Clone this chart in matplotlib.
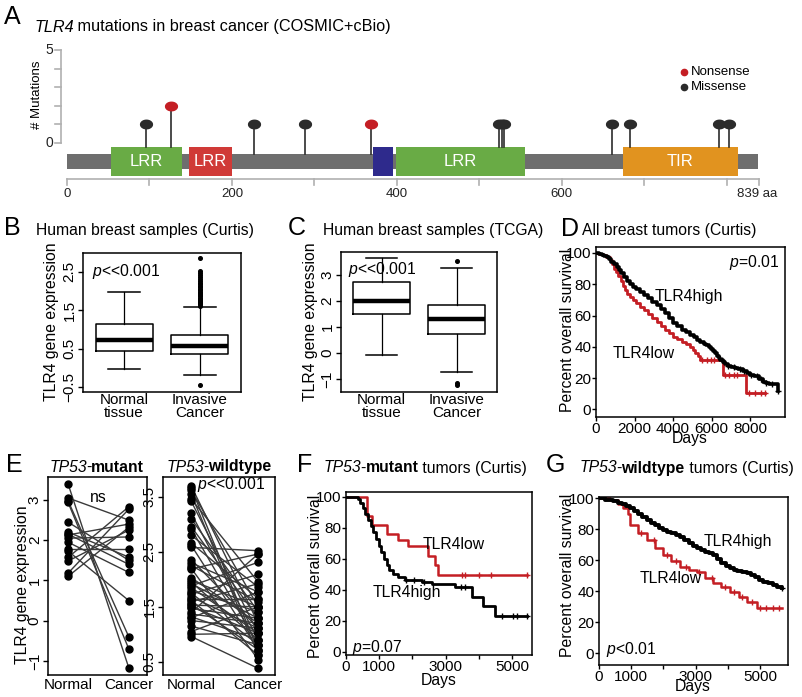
import matplotlib
matplotlib.use('Agg')
import matplotlib.pyplot as plt
import numpy as np
from matplotlib.path import Path
from matplotlib.patches import Rectangle

plt.rcParams['font.family'] = ['Liberation Sans', 'DejaVu Sans']
plt.rcParams['mathtext.fontset'] = 'custom'
plt.rcParams['mathtext.rm'] = 'Liberation Sans'
plt.rcParams['mathtext.it'] = 'Liberation Sans:italic'
plt.rcParams['mathtext.bf'] = 'Liberation Sans:bold'

# ------------------------------------------------------------------
# Data
# ------------------------------------------------------------------

# A: TLR4 protein and mutations
protein_len = 839
domain_names = ['LRR', 'LRR', '', 'LRR', 'TIR']
domain_start = [53, 148, 371, 399, 674]
domain_end = [140, 200, 395, 555, 813]
domain_colors = ['#69ab45', '#d03a37', '#2e2a8c', '#69ab45', '#e1931f']
mut_pos = [96, 126, 227, 289, 368, 524, 527, 530, 661, 682, 790, 803]
mut_count = [1, 2, 1, 1, 1, 1, 1, 1, 1, 1, 1, 1]
mut_type = ['Missense', 'Nonsense', 'Missense', 'Missense', 'Nonsense',
            'Missense', 'Missense', 'Missense', 'Missense', 'Missense',
            'Missense', 'Missense']

# B: Curtis boxplot
box_labels = ['Normal\ntissue', 'Invasive\nCancer']
b_med = [0.73, 0.58]
b_q1 = [0.45, 0.35]
b_q3 = [1.15, 0.85]
b_low = [-0.03, -0.20]
b_high = [1.97, 1.58]
b_cancer_out = [1.62, 1.65, 1.68, 1.71, 1.74, 1.77, 1.80, 1.83, 1.86, 1.89,
                1.92, 1.95, 1.98, 2.02, 2.06, 2.10, 2.14, 2.18, 2.22, 2.27,
                2.32, 2.37, 2.42, 2.47, 2.52, 2.87, -0.44]

# C: TCGA boxplot
c_med = [2.00, 1.30]
c_q1 = [1.49, 0.72]
c_q3 = [2.73, 1.84]
c_low = [-0.07, -0.75]
c_high = [3.66, 3.25]
c_cancer_out = [3.55, -1.15, -1.25]

# D: all tumors KM
d_high_t = [0, 150, 300, 420, 550, 680, 800, 940, 1075, 1190, 1300, 1450, 1600,
            1750, 1900, 2100, 2300, 2500, 2700, 2920, 3150, 3380, 3600, 3800,
            4000, 4220, 4450, 4680, 4900, 5080, 5250, 5420, 5600, 5720, 5850,
            5980, 6100, 6200, 6300, 6380, 6450, 6580, 6700, 6850, 7000, 7200,
            7400, 7620, 7850, 8020, 8200, 8450, 8700, 8850, 9000, 9470]
d_high_s = [100, 99.6, 99, 98.3, 97.5, 96, 94.5, 92.8, 91, 89, 87, 84.5, 82,
            80.2, 78.5, 76.8, 75, 73, 71, 68.8, 66.5, 64, 61.5, 58.2,
            55, 53, 51, 49.2, 47.5, 46, 44.5, 43.2, 42, 41, 40,
            38.8, 37.5, 35.8, 34, 32.8, 31.5, 30.2, 29, 28, 27, 26.2,
            25.5, 24.2, 23, 22, 21, 19.2, 17.5, 16.8, 16, 12]
d_low_t = [0, 180, 350, 540, 730, 840, 950, 1050, 1160, 1280, 1400, 1500, 1600,
           1750, 1900, 2100, 2290, 2500, 2700, 2920, 3150, 3380, 3600, 3800,
           4020, 4230, 4450, 4660, 4880, 5020, 5150, 5280, 5400, 5700, 6000,
           6440, 6600, 7000, 7450, 7790, 8000, 8780]
d_low_s = [100, 99.5, 99, 97.5, 95.5, 92.8, 90, 87.5, 85, 82, 79, 76.5, 74,
           72, 70, 67.8, 65.5, 63.2, 61, 58.5, 56, 53.5, 51, 48.8,
           46.5, 44.8, 43, 41.5, 40, 38, 36, 33.8, 31.5, 31.5, 31.5,
           31.5, 22, 22, 22, 10.5, 10.5, 10.5]
d_high_cens = [6550, 6850, 7150, 7500, 7700, 8050, 8350, 8550, 8850, 9150, 9470]
d_low_cens = [5500, 5750, 5950, 6150, 6700, 6900, 7150, 7350, 7950, 8250, 8550, 8780]

# E: paired TP53 samples
e_mut_normal = [3.40, 3.05, 2.98, 2.94, 2.45, 2.20, 2.13, 2.05, 1.95, 1.78,
                1.73, 1.57, 1.48, 1.18, 1.10, 2.15]
e_mut_cancer = [-1.17, 2.50, -0.40, -0.70, 1.50, 1.58, 2.40, 2.08, 1.20, 1.78,
                0.50, 2.83, 2.25, 2.77, 2.32, 1.40]
e_wt_normal = [3.70, 3.66, 3.62, 3.55, 3.46, 3.42, 3.20, 3.10, 2.96, 2.92,
               2.80, 2.66, 2.62, 2.58, 2.36, 2.30, 2.25, 2.20, 2.19, 2.03,
               1.98, 1.95, 1.92, 1.88, 1.85, 1.79, 1.75, 1.73, 1.68, 1.65,
               1.62, 1.59, 1.55, 1.53, 1.50, 1.47, 1.40, 1.37, 1.32, 1.30,
               1.25, 1.15, 1.05, 1.00, 0.96]
e_wt_cancer = [1.20, 0.70, 1.50, 0.62, 1.95, 1.02, 0.90, 1.41, 1.29, 0.81,
               1.86, 1.65, 0.72, 2.52, 1.11, 1.77, 1.59, 0.54, 2.46, 1.20,
               1.50, 0.90, 1.29, 2.31, 1.02, 1.41, 0.81, 2.09, 1.11, 1.65,
               0.62, 1.92, 0.72, 1.50, 1.02, 1.29, 2.46, 1.20, 0.90, 1.77,
               1.11, 0.81, 1.50, 1.02, 0.38]

# F: TP53-mutant KM
f_high_t = [0, 350, 420, 500, 580, 660, 740, 820, 900, 980, 1060, 1140, 1220,
            1300, 1420, 1576, 1780, 2280, 2580, 3283, 3785, 4136, 4488, 5442]
f_high_s = [100, 98.5, 96, 92.5, 89, 85, 81, 77, 73, 68.5, 64.5, 60, 56,
            52.5, 50, 48, 46, 45, 43.5, 41.5, 35.5, 29.5, 23, 23]
f_low_t = [0, 623, 774, 1225, 1576, 1877, 2480, 2681, 2781, 5442]
f_low_s = [100, 87.5, 82, 76, 72, 68, 62, 56, 49.4, 49.4]
f_high_cens = [1800, 2050, 2350, 3450, 3580, 4690, 5020, 5160, 5442]
f_low_cens = [3480, 3580, 4000, 4380, 5440]

# G: TP53-wildtype KM
g_high_t = [0, 200, 447, 580, 700, 830, 962, 1080, 1200, 1340, 1480, 1610,
            1750, 1870, 1998, 2120, 2250, 2380, 2516, 2650, 2800, 2920, 3033,
            3170, 3300, 3420, 3551, 3680, 3800, 3930, 4069, 4180, 4300, 4440,
            4586, 4720, 4850, 4980, 5104, 5250, 5400, 5540, 5673]
g_high_s = [100, 99, 97.9, 97, 96, 94.8, 93.6, 91.8, 90, 88, 86, 84.2,
            82.5, 81, 79.6, 78.5, 77.5, 76.5, 75.3, 73.2, 71, 69.3, 67.7,
            66.6, 65.5, 64.5, 63.4, 61, 58.5, 56.6, 54.8, 53.9, 53, 52.3,
            51.6, 50.3, 49, 47.6, 46.2, 45.1, 44, 43, 42]
g_low_t = [0, 342, 600, 756, 900, 962, 1200, 1480, 1750, 1998, 2250, 2516,
           2800, 3033, 3300, 3551, 3800, 4069, 4350, 4586, 4897, 5673]
g_low_s = [100, 99, 96.5, 93.6, 90, 82.8, 77.5, 73.1, 68, 63.4, 59.5, 55.9,
           54, 52.7, 48.5, 45.2, 42.5, 39.8, 36.5, 33.3, 29, 29]
g_low_cens = [1300, 1700, 2100, 2400, 2700, 3100, 3500, 3900, 4200, 4450,
              4750, 5000, 5200, 5400, 5600]

RED = '#c41e24'
W, H = 802, 697
fig = plt.figure(figsize=(W / 100, H / 100), dpi=100)
renderer = fig.canvas.get_renderer()


def px_axes(x0, y0, x1, y1):
    return fig.add_axes([x0 / W, 1 - y1 / H, (x1 - x0) / W, (y1 - y0) / H])


def fig_text(x, y, s, **kw):
    kw.setdefault('fontsize', 11)
    return fig.text(x / W, 1 - y / H, s, **kw)


def rich_text(x, y, parts, fontsize=11, ha='left'):
    # parts: (text, style, weight) drawn one after another
    texts = []
    cur = x
    for s, style, weight in parts:
        t = fig_text(cur, y, s, fontsize=fontsize, va='center',
                     style=style, weight=weight)
        cur += t.get_window_extent(renderer).width
        if style == 'italic':
            cur -= 1.5
        texts.append(t)
    if ha == 'center':
        shift = (cur - x) / 2 / W
        for t in texts:
            px, py = t.get_position()
            t.set_position((px - shift, py))


def style_axes(ax, rot_y=False):
    for sp in ax.spines.values():
        sp.set_linewidth(1.1)
    ax.tick_params(length=3.5, width=1, labelsize=11, pad=1)
    if rot_y:
        ax.tick_params(axis='y', labelrotation=90)


def center_ylabels(ax):
    for lab in ax.get_yticklabels():
        lab.set_va('center')


def surv_at(times, surv, t):
    idx = np.searchsorted(times, t, side='right') - 1
    return np.asarray(surv)[idx]


# ------------------------------------------------------------------
# Panel A
# ------------------------------------------------------------------
axA = px_axes(25, 40, 800, 205)
axA.set_xlim(-50.9, 888.7)
axA.set_ylim(-3.33, 5.54)
axA.axis('off')

axA.add_patch(Rectangle((0, -1.37), protein_len - 1, 0.78, color='#6e6e6e', lw=0, zorder=1))
for name, s, e, c in zip(domain_names, domain_start, domain_end, domain_colors):
    axA.add_patch(Rectangle((s, -1.77), e - s, 1.57, color=c, lw=0, zorder=2))
    if name:
        axA.text((s + e) / 2, -0.99, name, color='white', fontsize=12,
                 ha='center', va='center', zorder=3)

theta = np.linspace(0, 2 * np.pi, 41)
ellipse = Path(np.column_stack([np.cos(theta), 0.72 * np.sin(theta)]), closed=True)
for pos, cnt, kind in zip(mut_pos, mut_count, mut_type):
    in_dom = any(s <= pos <= e for s, e in zip(domain_start, domain_end))
    bottom = -0.2 if in_dom else -0.59
    axA.plot([pos, pos], [bottom, cnt], color='#1a1a1a', lw=1.1, zorder=3)
    col = RED if kind == 'Nonsense' else '#2b2b2b'
    axA.plot(pos, cnt, marker=ellipse, ms=8.5, color=col, zorder=4)

# mutation count axis
axA.plot([-7.6, -7.6], [0, 5], color='#b0b0b0', lw=1.2)
for k in range(6):
    axA.plot([-14.5, -7.6], [k, k], color='#b0b0b0', lw=1.2)
for k in [0, 5]:
    axA.text(-21.5, k, str(k), fontsize=10, ha='center', va='center', color='#222222')
axA.text(-36, 2.6, '# Mutations', rotation=90, fontsize=9.5, ha='center', va='center')

# amino-acid axis
axA.plot([0, protein_len], [-1.95, -1.95], color='#b0b0b0', lw=1.2)
for t in list(range(0, 900, 100)) + [protein_len]:
    axA.plot([t, t], [-1.95, -2.26], color='#b0b0b0', lw=1.2)
for t in [0, 200, 400, 600]:
    axA.text(t, -2.72, str(t), fontsize=9.5, ha='center', va='center', color='#222222')
axA.text(812, -2.72, '839 aa', fontsize=9.5, ha='left', va='center', color='#222222')

# legend
axA.plot(748, 3.82, 'o', ms=4.5, color=RED)
axA.plot(748, 3.01, 'o', ms=4.5, color='#2b2b2b')
axA.text(757, 3.82, 'Nonsense', fontsize=9.5, va='center')
axA.text(757, 3.01, 'Missense', fontsize=9.5, va='center')

fig_text(12, 17, 'A', fontsize=18, ha='center', va='center')
rich_text(35, 27, [('TLR4', 'italic', 'normal'),
                   (' mutations in breast cancer (COSMIC+cBio)', 'normal', 'normal')],
          fontsize=11.7)


# ------------------------------------------------------------------
# Panels B, C: boxplots
# ------------------------------------------------------------------
def draw_box(ax, med, q1, q3, lo, hi, cancer_out):
    stats = []
    for i in range(2):
        stats.append(dict(med=med[i], q1=q1[i], q3=q3[i], whislo=lo[i], whishi=hi[i],
                          fliers=cancer_out if i == 1 else []))
    ax.bxp(stats, positions=[1, 2], widths=0.75, capwidths=0.42,
           boxprops=dict(lw=1.1, color='black'),
           medianprops=dict(lw=3.2, color='black', solid_capstyle='butt'),
           whiskerprops=dict(lw=0.9, color='black'),
           capprops=dict(lw=1.1, color='black'),
           flierprops=dict(marker='o', ms=2.6, mfc='black', mec='black'))
    ax.set_xlim(0.46, 2.54)
    ax.set_xticks([1, 2])
    ax.set_xticklabels(box_labels, fontsize=11.3, linespacing=0.85)


axB = px_axes(83, 253, 241, 392)
draw_box(axB, b_med, b_q1, b_q3, b_low, b_high, b_cancer_out)
axB.set_ylim(-0.63, 2.99)
axB.set_yticks([-0.5, 0.5, 1.5, 2.5])
style_axes(axB, rot_y=True)
center_ylabels(axB)
axB.tick_params(axis='x', length=0, pad=1)
axB.text(0.58, 2.5, r'$\mathit{p}$<<0.001', fontsize=11.3, va='center')
fig_text(12, 228, 'B', fontsize=18, ha='center', va='center')
fig_text(36, 231, 'Human breast samples (Curtis)', fontsize=11.3, va='center')
fig_text(52, 322, 'TLR4 gene expression', fontsize=11.3, rotation=90, ha='center', va='center')

axC = px_axes(341, 252, 497, 392)
draw_box(axC, c_med, c_q1, c_q3, c_low, c_high, c_cancer_out)
axC.set_ylim(-1.5, 3.88)
axC.set_yticks([-1, 0, 1, 2, 3])
style_axes(axC, rot_y=True)
center_ylabels(axC)
axC.tick_params(axis='x', length=0, pad=1)
axC.text(0.56, 3.2, r'$\mathit{p}$<<0.001', fontsize=11.3, va='center')
fig_text(297, 228, 'C', fontsize=18, ha='center', va='center')
fig_text(323, 231, 'Human breast samples (TCGA)', fontsize=11.3, va='center')
fig_text(311, 322, 'TLR4 gene expression', fontsize=11.3, rotation=90, ha='center', va='center')


# ------------------------------------------------------------------
# KM helper
# ------------------------------------------------------------------
def draw_km(ax, t_hi, s_hi, t_lo, s_lo, lw_hi, lw_lo, cens_hi, cens_lo):
    ax.step(t_hi, s_hi, where='post', color='black', lw=lw_hi, zorder=3)
    ax.step(t_lo, s_lo, where='post', color=RED, lw=lw_lo, zorder=2)
    ax.plot(cens_hi, surv_at(t_hi, s_hi, cens_hi), '+', color='black', ms=4, mew=1, zorder=3)
    ax.plot(cens_lo, surv_at(t_lo, s_lo, cens_lo), '+', color=RED, ms=4, mew=1, zorder=2)
    ax.set_yticks([0, 20, 40, 60, 80, 100])
    style_axes(ax)
    ax.tick_params(length=3, pad=0.5)


# D
axD = px_axes(596, 247, 785, 417)
draw_km(axD, d_high_t, d_high_s, d_low_t, d_low_s, 2.6, 2.0, d_high_cens, d_low_cens)
axD.set_xlim(0, 9818)
axD.set_ylim(-4.9, 103.8)
axD.set_xticks([0, 2000, 4000, 6000, 8000])
axD.text(3050, 72, 'TLR4high', fontsize=11.3, va='center')
axD.text(850, 36, 'TLR4low', fontsize=11.3, va='center')
axD.text(9500, 94, r'$\mathit{p}$=0.01', fontsize=11.3, ha='right', va='center')
fig_text(570, 229, 'D', fontsize=18, ha='center', va='center')
fig_text(582, 231, 'All breast tumors (Curtis)', fontsize=11.3, va='center')
fig_text(567, 330, 'Percent overall survival', fontsize=11.3, rotation=90, ha='center', va='center')
fig_text(690, 439, 'Days', fontsize=11.3, ha='center', va='center')

# F
axF = px_axes(346, 492, 532, 655)
draw_km(axF, f_high_t, f_high_s, f_low_t, f_low_s, 2.0, 1.8, f_high_cens, f_low_cens)
axF.set_xlim(0, 5600)
axF.set_ylim(-2.1, 103)
axF.set_xticks([0, 1000, 2000, 3000, 4000, 5000])
axF.set_xticklabels(['0', '1000', '', '3000', '', '5000'])
axF.text(2300, 69, 'TLR4low', fontsize=11.3, va='center')
axF.text(800, 38, 'TLR4high', fontsize=11.3, va='center')
axF.text(170, 3, r'$\mathit{p}$=0.07', fontsize=11.3, va='center')
fig_text(305, 465, 'F', fontsize=18, ha='center', va='center')
rich_text(324, 468, [('TP53', 'italic', 'normal'), ('-', 'normal', 'normal'),
                     ('mutant', 'normal', 'bold'), (' tumors (Curtis)', 'normal', 'normal')],
          fontsize=11.3)
fig_text(316, 576, 'Percent overall survival', fontsize=11.3, rotation=90, ha='center', va='center')
fig_text(439, 681, 'Days', fontsize=11.3, ha='center', va='center')

# G
axG = px_axes(599, 497, 788, 665)
draw_km(axG, g_high_t, g_high_s, g_low_t, g_low_s, 2.8, 1.8, [5673], g_low_cens)
axG.set_xlim(0, 5870)
axG.set_ylim(-7.5, 100.8)
axG.set_xticks([0, 1000, 2000, 3000, 4000, 5000])
axG.set_xticklabels(['0', '1000', '', '3000', '', '5000'])
axG.text(3250, 72, 'TLR4high', fontsize=11.3, va='center')
axG.text(1270, 48, 'TLR4low', fontsize=11.3, va='center')
axG.text(220, 2.5, r'$\mathit{p}$<0.01', fontsize=11.3, va='center')
fig_text(555, 465, 'G', fontsize=18, ha='center', va='center')
rich_text(580, 468, [('TP53', 'italic', 'normal'), ('-', 'normal', 'normal'),
                     ('wildtype', 'normal', 'bold'), (' tumors (Curtis)', 'normal', 'normal')],
          fontsize=11.3)
fig_text(567, 575, 'Percent overall survival', fontsize=11.3, rotation=90, ha='center', va='center')
fig_text(693, 687, 'Days', fontsize=11.3, ha='center', va='center')


# ------------------------------------------------------------------
# Panel E: paired samples
# ------------------------------------------------------------------
def draw_pairs(ax, normal, cancer):
    for n, c in zip(normal, cancer):
        ax.plot([1, 2], [n, c], color='#3a3a3a', lw=1.0, zorder=2)
    ax.plot(np.ones(len(normal)), normal, 'o', color='black', ms=5, zorder=3)
    ax.plot(np.full(len(cancer), 2), cancer, 'o', color='black', ms=5, zorder=3)
    ax.set_xticks([1, 2])
    ax.set_xticklabels(['Normal', 'Cancer'], fontsize=11.5)
    style_axes(ax, rot_y=True)
    ax.tick_params(axis='x', length=0, pad=2)


axE1 = px_axes(48, 477, 147, 675)
draw_pairs(axE1, e_mut_normal, e_mut_cancer)
axE1.set_xlim(0.67, 2.3)
axE1.set_ylim(-1.35, 3.57)
axE1.set_yticks([-1, 0, 1, 2, 3])
center_ylabels(axE1)
axE1.text(1.5, 3.05, 'ns', fontsize=11.3, ha='center', va='center')

axE2 = px_axes(163, 477, 275, 675)
draw_pairs(axE2, e_wt_normal, e_wt_cancer)
axE2.set_xlim(0.58, 2.25)
axE2.set_ylim(0.26, 3.86)
axE2.set_yticks([0.5, 1.5, 2.5, 3.5])
center_ylabels(axE2)
axE2.text(1.08, 3.72, r'$\mathit{p}$<<0.001', fontsize=11.3, va='center')

fig_text(14, 465, 'E', fontsize=18, ha='center', va='center')
rich_text(97, 467, [('TP53', 'italic', 'normal'), ('-', 'normal', 'normal'),
                    ('mutant', 'normal', 'bold')], fontsize=11.3, ha='center')
rich_text(219, 467, [('TP53', 'italic', 'normal'), ('-', 'normal', 'normal'),
                     ('wildtype', 'normal', 'bold')], fontsize=11.3, ha='center')
fig_text(23, 585, 'TLR4 gene expression', fontsize=11.3, rotation=90, ha='center', va='center')

fig.savefig('out.png', dpi=100)
